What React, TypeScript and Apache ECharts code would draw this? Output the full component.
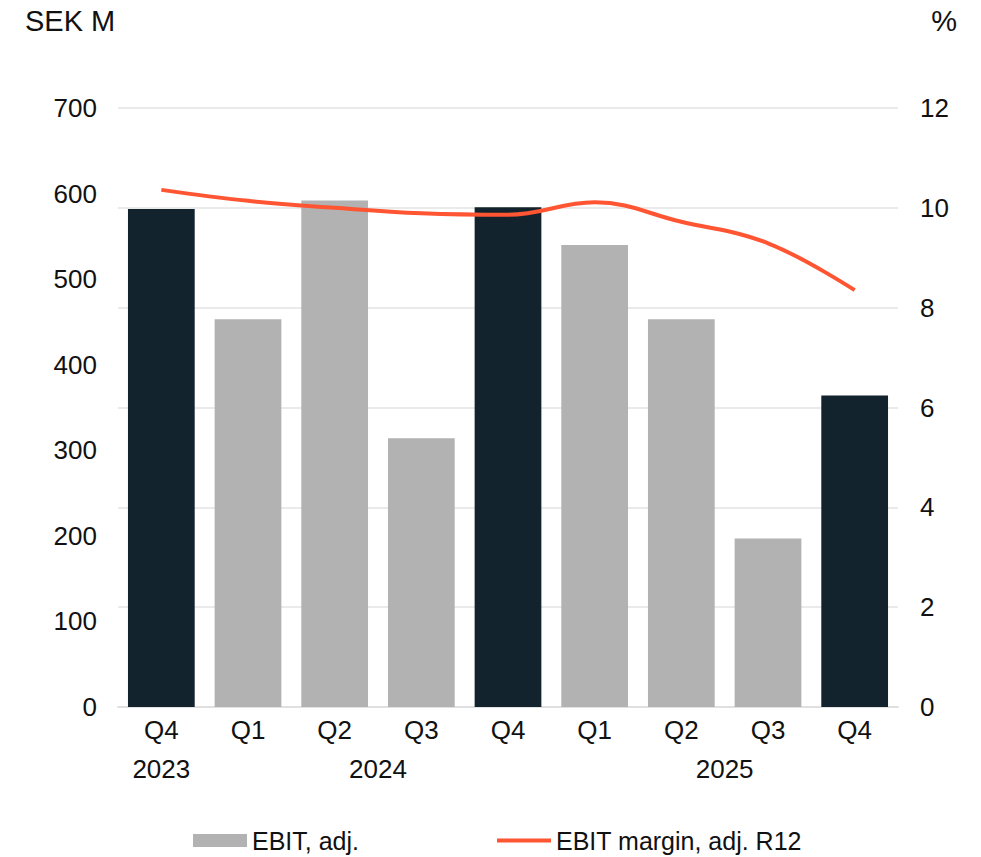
import React, { useEffect, useRef } from "react";
import * as echarts from "echarts";

const quarters = ["Q4", "Q1", "Q2", "Q3", "Q4", "Q1", "Q2", "Q3", "Q4"];
const yearLabels = ["2023", "2024", "2025"];
const yearPositions = [0.5, 3, 7];
const ebitAdj = [582, 453, 592, 314, 584, 540, 453, 197, 364];
const highlighted = [true, false, false, false, true, false, false, false, true];
const marginR12 = [10.36, 10.14, 10.0, 9.89, 9.86, 10.11, 9.72, 9.29, 8.35];
const leftTicks = { min: 0, max: 700, interval: 100 };
const rightTicks = { min: 0, max: 12, interval: 2 };

const FONT = "'Liberation Sans', Arial, sans-serif";
const DARK = "#12232e";
const GRAY = "#b2b2b2";
const ORANGE = "#ff5533";
const TXT = "#111111";

export default function App() {
  const ref = useRef<HTMLDivElement>(null);
  useEffect(() => {
    if (!ref.current) return;
    const chart = echarts.init(ref.current, undefined, { renderer: "svg" });
    chart.setOption({
      animation: false,
      textStyle: { fontFamily: FONT },
      grid: { left: 118, right: 83, top: 108, bottom: 150, containLabel: false },
      legend: {
        left: 193,
        top: 828,
        padding: 0,
        itemWidth: 54,
        itemHeight: 13,
        itemGap: 138,
        textStyle: { fontFamily: FONT, fontSize: 25, color: TXT, padding: [0, 0, 0, 0] },
        data: [
          { name: "EBIT, adj.", icon: "rect", itemStyle: { color: GRAY } },
          {
            name: "EBIT margin, adj. R12",
            icon: "path://M0,0H55V4H0Z",
            symbolKeepAspect: true,
            itemStyle: { color: ORANGE },
          },
        ],
      },
      graphic: [
        { type: "text", left: 25, top: 6, style: { text: "SEK M", fontFamily: FONT, fontSize: 29, fill: TXT } },
        { type: "text", right: 24, top: 6, style: { text: "%", fontFamily: FONT, fontSize: 29, fill: TXT } },
      ],
      xAxis: [
        {
          type: "category",
          data: quarters,
          axisLine: { lineStyle: { color: "#e0e0e0", width: 2 } },
          axisTick: { show: false },
          axisLabel: { fontFamily: FONT, fontSize: 26, color: TXT, margin: 10 },
        },
        {
          type: "value",
          position: "bottom",
          min: 0,
          max: 9,
          interval: 0.5,
          offset: 39,
          axisLine: { show: false },
          axisTick: { show: false },
          splitLine: { show: false },
          axisLabel: {
            fontFamily: FONT,
            fontSize: 26,
            color: TXT,
            margin: 10,
            showMinLabel: true,
            showMaxLabel: true,
            formatter: (v: number) => {
              const i = yearPositions.findIndex((p) => Math.abs(p - v) < 1e-6);
              return i >= 0 ? yearLabels[i] : "";
            },
          },
        },
      ],
      yAxis: [
        {
          type: "value",
          ...leftTicks,
          axisLine: { show: false },
          axisTick: { show: false },
          splitLine: { show: false },
          axisLabel: { fontFamily: FONT, fontSize: 26, color: TXT, margin: 21 },
        },
        {
          type: "value",
          ...rightTicks,
          position: "right",
          axisLine: { show: false },
          axisTick: { show: false },
          splitLine: { show: true, lineStyle: { color: "#e3e3e3", width: 1.5 } },
          axisLabel: { fontFamily: FONT, fontSize: 26, color: TXT, margin: 22 },
        },
      ],
      series: [
        {
          name: "EBIT, adj.",
          type: "bar",
          xAxisIndex: 0,
          yAxisIndex: 0,
          barWidth: "77%",
          itemStyle: { color: GRAY },
          data: ebitAdj.map((v, i) => ({
            value: v,
            itemStyle: { color: highlighted[i] ? DARK : GRAY },
          })),
        },
        {
          name: "EBIT margin, adj. R12",
          type: "line",
          xAxisIndex: 0,
          yAxisIndex: 1,
          smooth: 0.4,
          symbol: "none",
          lineStyle: { color: ORANGE, width: 4 },
          itemStyle: { color: ORANGE },
          data: marginR12,
        },
      ],
    });
    return () => chart.dispose();
  }, []);
  return (
    <div
      ref={ref}
      style={{ width: 981, height: 857, position: "fixed", top: 0, left: 0, background: "#fff" }}
    />
  );
}
